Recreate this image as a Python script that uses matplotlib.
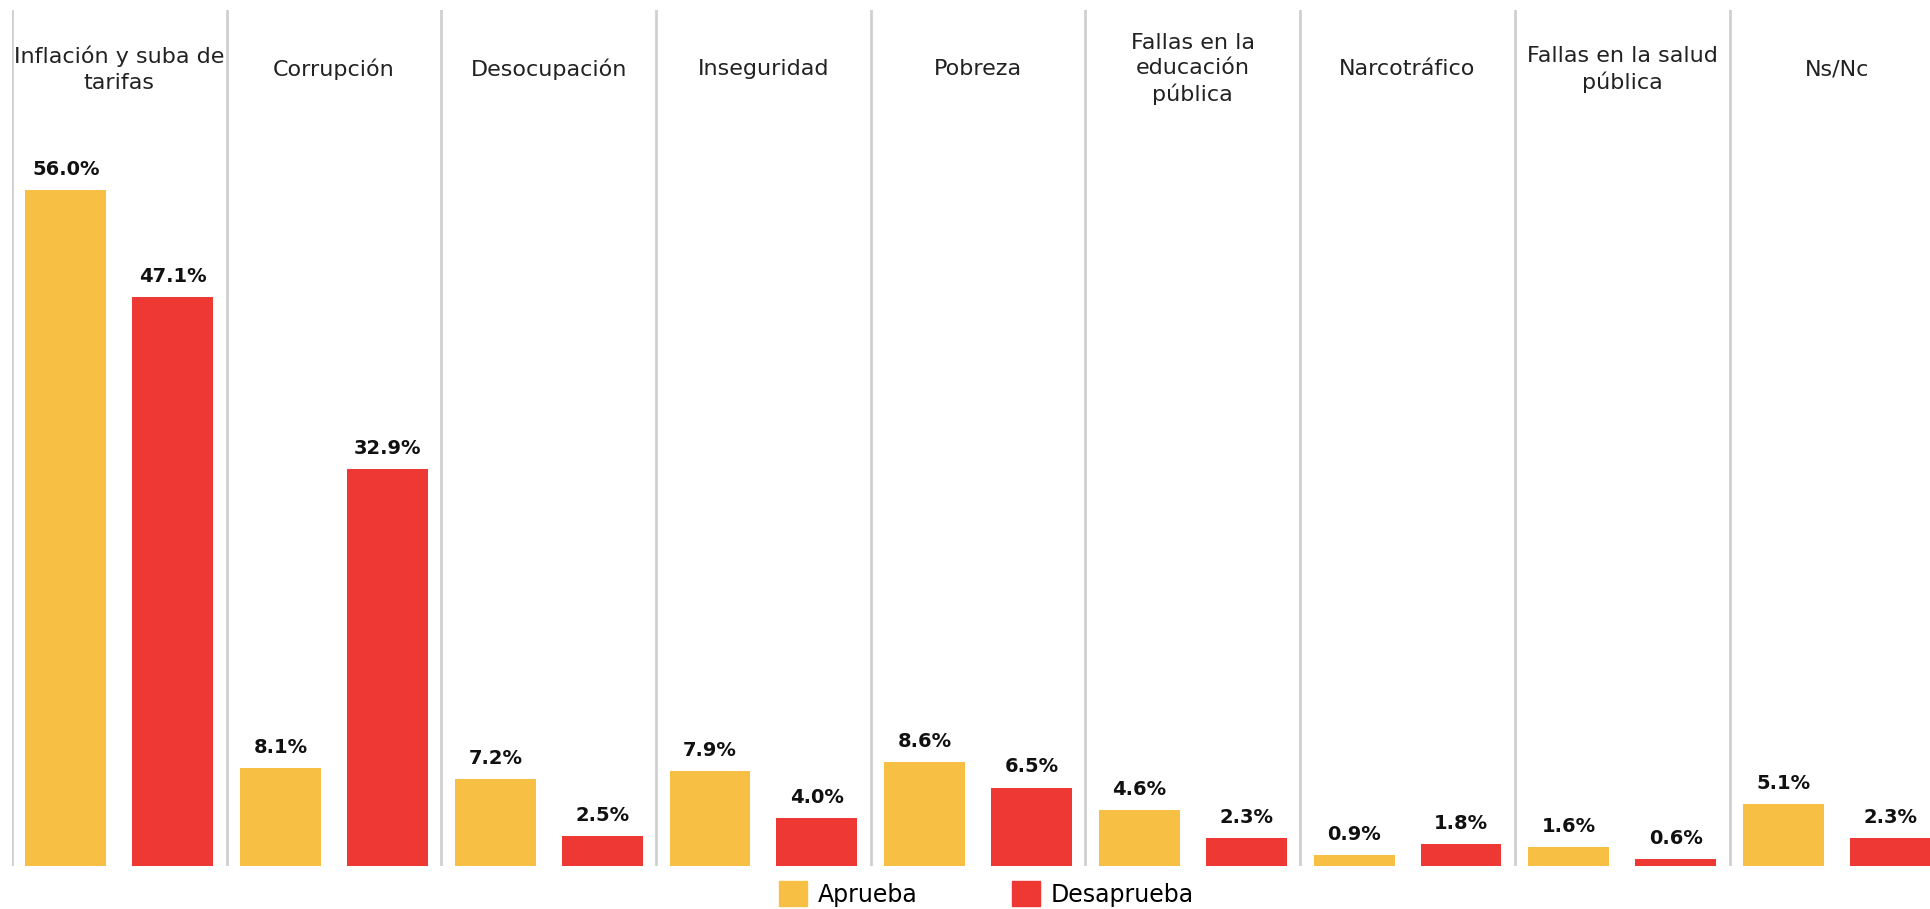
import numpy as np
import matplotlib
matplotlib.use('Agg')
import matplotlib.pyplot as plt
from matplotlib.patches import Patch

plt.rcParams['font.family'] = ['DejaVu Sans']

categories = ['Inflación y suba de\ntarifas', 'Corrupción', 'Desocupación', 'Inseguridad',
              'Pobreza', 'Fallas en la\neducación\npública', 'Narcotráfico',
              'Fallas en la salud\npública', 'Ns/Nc']
aprueba = [56.0, 8.1, 7.2, 7.9, 8.6, 4.6, 0.9, 1.6, 5.1]
desaprueba = [47.1, 32.9, 2.5, 4.0, 6.5, 2.3, 1.8, 0.6, 2.3]
series_labels = ['Aprueba', 'Desaprueba']

yellow = '#F7C045'
red = '#EE3834'

fig = plt.figure(figsize=(19.30, 9.09), dpi=100)
ax = fig.add_axes([12 / 1930, 43 / 909, 1 - 12 / 1930, 856 / 909])

x = np.arange(len(categories))
offset = 0.249
width = 0.377

b1 = ax.bar(x - offset, aprueba, width=width, color=yellow)
b2 = ax.bar(x + offset, desaprueba, width=width, color=red)

for bars, vals in [(b1, aprueba), (b2, desaprueba)]:
    for bar, v in zip(bars, vals):
        ax.annotate(f'{v:.1f}%', (bar.get_x() + bar.get_width() / 2, v),
                    xytext=(0, 8), textcoords='offset points',
                    ha='center', va='bottom', fontsize=14, fontweight='bold',
                    color='#111111')

# panel separators
for i in range(len(categories) + 1):
    ax.axvline(i - 0.5, color='#d0d0d0', lw=2, zorder=0)

ymax = 70.9
for i, c in enumerate(categories):
    ax.text(i, 66.0, c, ha='center', va='center', fontsize=16,
            color='#222222', linespacing=1.33)

ax.set_xlim(-0.5, -0.5 + 1918 / 214.7)
ax.set_ylim(0, ymax)
ax.axis('off')

handles = [Patch(color=yellow), Patch(color=red)]
fig.legend(handles, series_labels, loc='center', bbox_to_anchor=(0.511, 0.0165),
           ncol=2, frameon=False, fontsize=17, handlelength=1.2, handleheight=1.2,
           handletextpad=0.45, columnspacing=4.0, borderpad=0, borderaxespad=0)

fig.savefig('out.png', dpi=100)
